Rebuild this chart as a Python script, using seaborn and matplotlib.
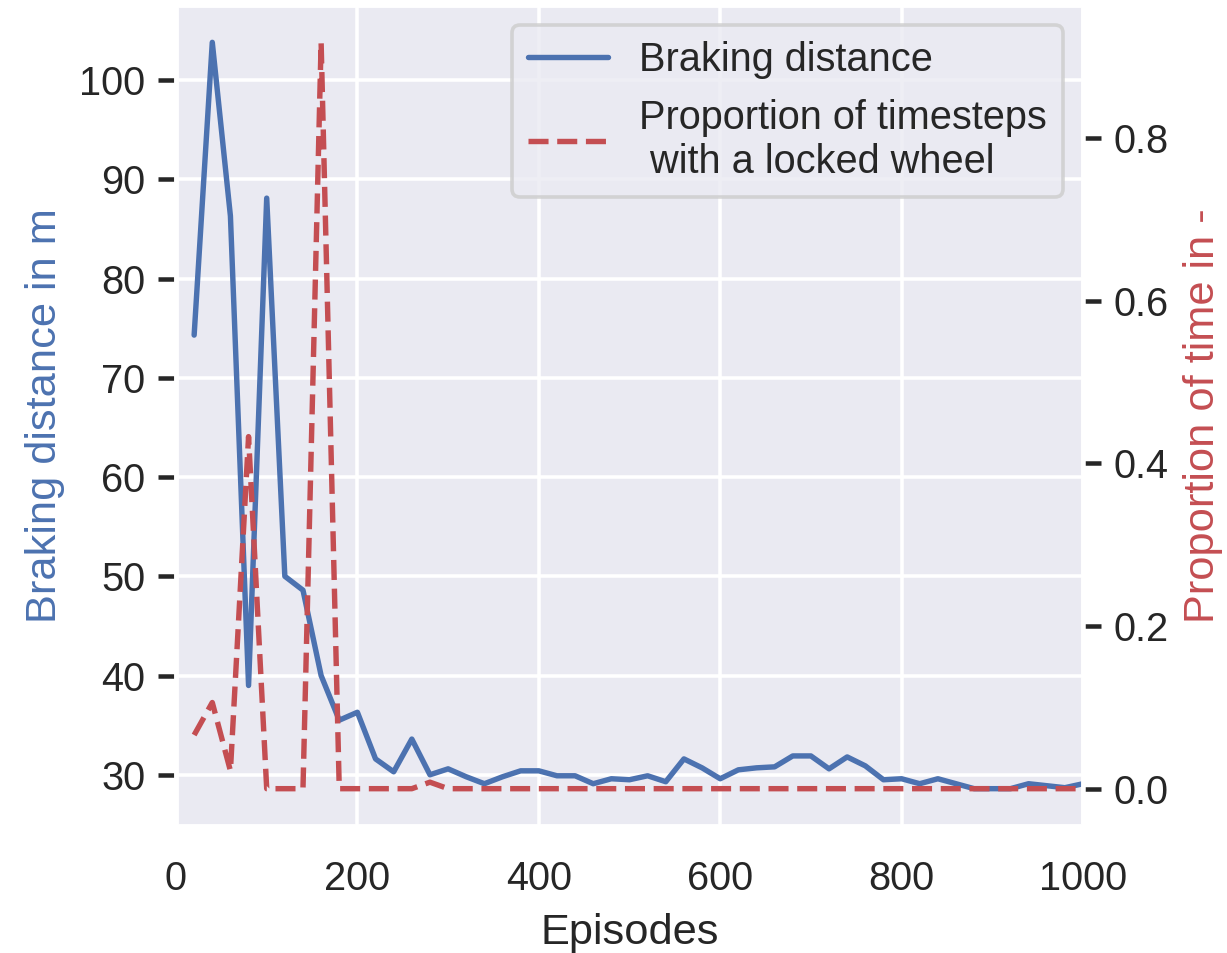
import numpy as np
import pandas as pd
import matplotlib
matplotlib.use("Agg")
import matplotlib.pyplot as plt
import seaborn as sns

episodes = list(range(20, 1001, 20))
braking_distance = [
    74.3, 103.8, 86.3, 39.0, 88.1, 50.0, 48.6, 40.0, 35.5, 36.3,
    31.6, 30.3, 33.6, 30.0, 30.6, 29.8, 29.1, 29.8, 30.4, 30.4,
    29.9, 29.9, 29.1, 29.6, 29.5, 29.9, 29.3, 31.6, 30.7, 29.6,
    30.5, 30.7, 30.8, 31.9, 31.9, 30.6, 31.8, 30.9, 29.5, 29.6,
    29.1, 29.6, 29.1, 28.6, 28.6, 28.6, 29.1, 28.9, 28.7, 29.1,
]
locked_proportion = [
    0.066, 0.106, 0.022, 0.433, 0.0, 0.0, 0.0, 0.918, 0.0, 0.0,
    0.0, 0.0, 0.0, 0.008, 0.0, 0.0, 0.0, 0.0, 0.0, 0.0,
    0.0, 0.0, 0.0, 0.0, 0.0, 0.0, 0.0, 0.0, 0.0, 0.0,
    0.0, 0.0, 0.0, 0.0, 0.0, 0.0, 0.0, 0.0, 0.0, 0.0,
    0.0, 0.0, 0.0, 0.0, 0.0, 0.0, 0.0, 0.0, 0.0, 0.0,
]
label_bd = "Braking distance"
label_lock = "Proportion of timesteps\n with a locked wheel"

df = pd.DataFrame({"episodes": episodes, "bd": braking_distance, "lock": locked_proportion})

sns.set_theme(style="darkgrid")
plt.rcParams["font.family"] = ["Liberation Sans", "DejaVu Sans"]

blue = sns.color_palette("deep")[0]
red = sns.color_palette("deep")[3]

DPI = 260
fig = plt.figure(figsize=(1227 / DPI, 953 / DPI), dpi=DPI)
ax = fig.add_axes([176 / 1227, 1 - 826 / 953, (1083 - 176) / 1227, (826 - 5) / 953])

sns.lineplot(data=df, x="episodes", y="bd", ax=ax, color=blue, label=label_bd)
ax2 = ax.twinx()
sns.lineplot(data=df, x="episodes", y="lock", ax=ax2, color=red, linestyle="--", label=label_lock)
ax2.grid(False)

ax.set_xlim(0, 1000)
ax.set_xlabel("Episodes")
ax.set_ylabel("Braking distance in m", color=blue)
ax2.set_ylabel("Proportion of time in -", color=red)
ax.set_yticks([30, 40, 50, 60, 70, 80, 90, 100])
ax2.set_yticks([0.0, 0.2, 0.4, 0.6, 0.8])
ax.tick_params(axis="y", length=5)
ax2.tick_params(axis="y", length=5)

h1, l1 = ax.get_legend_handles_labels()
h2, l2 = ax2.get_legend_handles_labels()
if ax.get_legend() is not None:
    ax.get_legend().remove()
if ax2.get_legend() is not None:
    ax2.get_legend().remove()
ax2.legend(h1 + h2, l1 + l2, loc="upper right")

fig.savefig("out.png", dpi=DPI)
